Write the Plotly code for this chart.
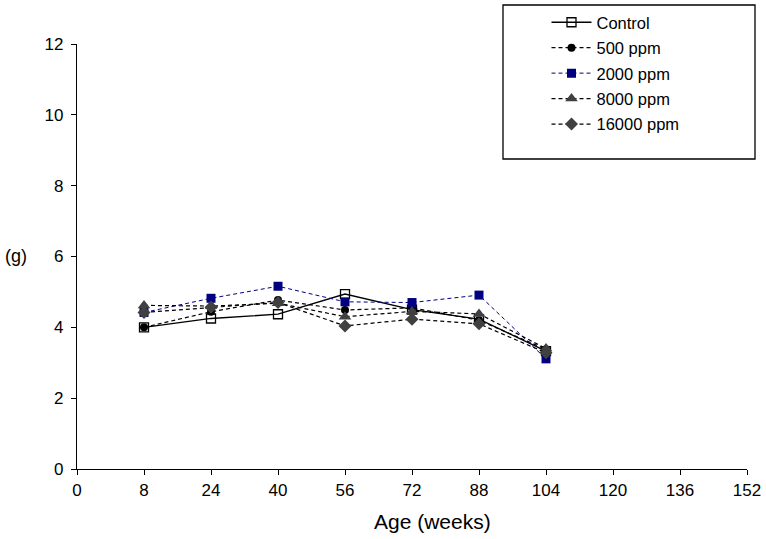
import plotly.graph_objects as go

ages = ["0", "8", "24", "40", "56", "72", "88", "104", "120", "136", "152"]
data_ages = ["8", "24", "40", "56", "72", "88", "104"]

control = [4.00, 4.25, 4.37, 4.94, 4.50, 4.23, 3.33]
ppm500 = [4.00, 4.44, 4.77, 4.49, 4.55, 4.20, 3.38]
ppm2000 = [4.42, 4.82, 5.16, 4.72, 4.70, 4.91, 3.11]
ppm8000 = [4.62, 4.60, 4.68, 4.30, 4.45, 4.38, 3.40]
ppm16000 = [4.42, 4.57, 4.70, 4.04, 4.23, 4.10, 3.28]

y_ticks = [0, 2, 4, 6, 8, 10, 12]

xpos = [ages.index(a) for a in data_ages]

FONT = "Liberation Sans, Arial, sans-serif"
DASH = "4px,3px"

fig = go.Figure()

series = [
    ("Control", control, dict(color="black", width=1.3), dict(symbol="square-open", size=9, color="black", line=dict(color="black", width=1.3))),
    ("500 ppm", ppm500, dict(color="black", width=1.2, dash=DASH), dict(symbol="circle", size=8, color="black")),
    ("2000 ppm", ppm2000, dict(color="#000080", width=1.0, dash=DASH), dict(symbol="square", size=9, color="#000080")),
    ("8000 ppm", ppm8000, dict(color="black", width=1.2, dash=DASH), dict(symbol="triangle-up", size=11, color="#404040")),
    ("16000 ppm", ppm16000, dict(color="black", width=1.2, dash=DASH), dict(symbol="diamond", size=10, color="#404040")),
]

for i, (name, vals, line, marker) in enumerate(series):
    fig.add_trace(go.Scatter(
        x=xpos, y=vals, name=name, mode="lines+markers",
        line=line, marker=marker, legendgroup="g%d" % i,
    ))

fig.update_layout(
    width=766, height=539,
    margin=dict(l=77, r=19, t=44, b=70, autoexpand=False),
    paper_bgcolor="white", plot_bgcolor="white",
    font=dict(family=FONT, size=17, color="black"),
    showlegend=True,
    legend=dict(
        x=(546.5 - 77) / 670, y=(469 - 5) / 425, xanchor="left", yanchor="top",
        bgcolor="rgba(0,0,0,0)", borderwidth=0,
        font=dict(family=FONT, size=16.5, color="black"),
        itemwidth=40, tracegroupgap=1,
    ),
    xaxis=dict(
        range=[0, 10], tickmode="array",
        tickvals=list(range(len(ages))), ticktext=ages,
        showgrid=False, zeroline=False, showline=True,
        linecolor="black", linewidth=1.3,
        ticks="outside", ticklen=5, tickcolor="black",
        tickfont=dict(family=FONT, size=17),
    ),
    yaxis=dict(
        range=[0, 12], tickmode="array", tickvals=y_ticks,
        showgrid=False, zeroline=False, showline=True,
        linecolor="black", linewidth=1.3,
        ticks="outside", ticklen=5, tickcolor="black",
        tickfont=dict(family=FONT, size=17),
        ticklabelstandoff=4,
    ),
    shapes=[dict(
        type="rect", xref="paper", yref="paper",
        x0=(503 - 77) / 670, x1=(755 - 77) / 670,
        y0=(469 - 159) / 425, y1=(469 - 5) / 425,
        line=dict(color="black", width=1.3), fillcolor="rgba(0,0,0,0)",
    )],
    annotations=[
        dict(text="(g)", xref="paper", yref="paper",
             x=(16 - 77) / 670, y=(469 - 256) / 425,
             xanchor="center", yanchor="middle", showarrow=False,
             font=dict(family=FONT, size=18)),
        dict(text="Age (weeks)", xref="paper", yref="paper",
             x=(432 - 77) / 670, y=(469 - 521) / 425,
             xanchor="center", yanchor="middle", showarrow=False,
             font=dict(family=FONT, size=21)),
    ],
)

fig.write_html(
    "out.html",
    config={"displayModeBar": False},
    post_script="document.body.style.margin='0';document.body.style.overflow='hidden';",
)
